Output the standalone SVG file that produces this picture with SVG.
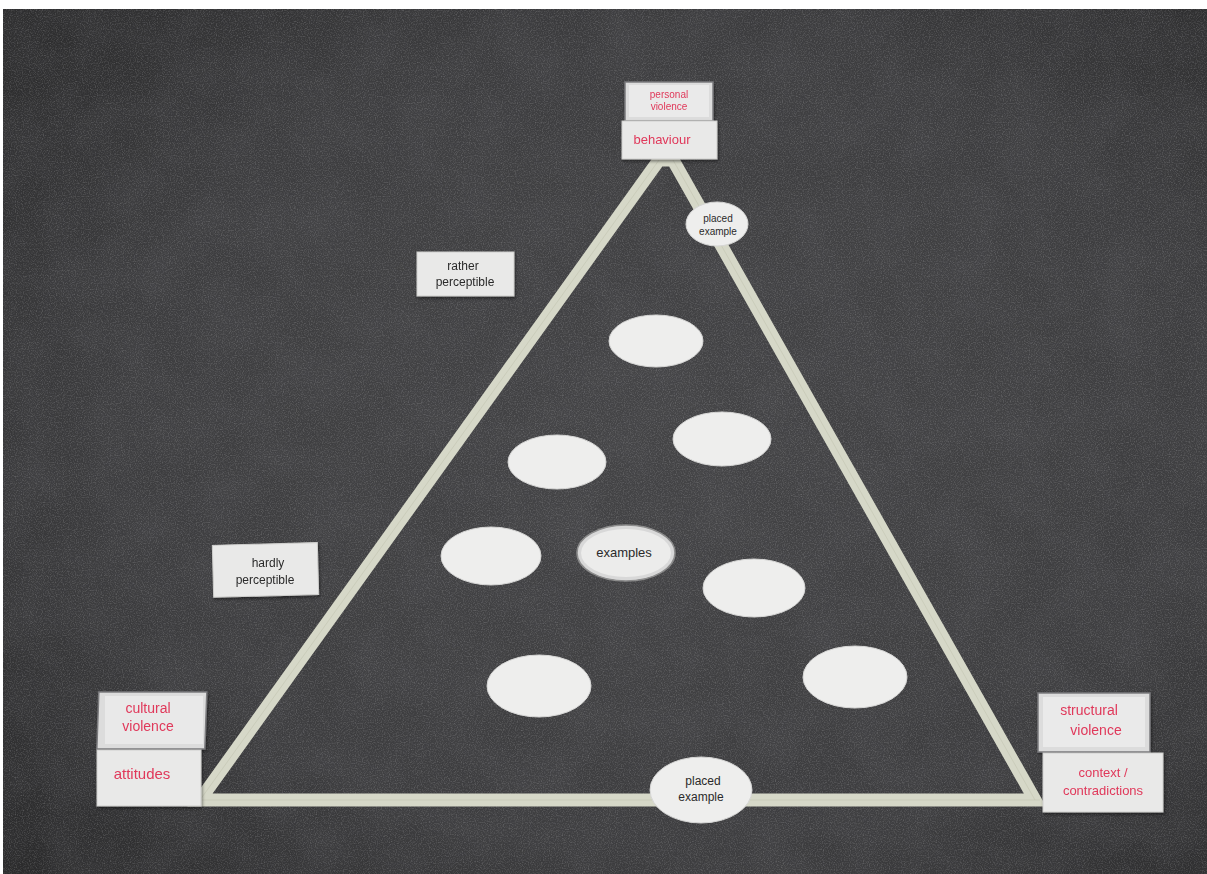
<svg xmlns="http://www.w3.org/2000/svg" width="1207" height="874" viewBox="0 0 1207 874">
<defs>
<filter id="grain" x="0" y="0" width="100%" height="100%">
<feTurbulence type="fractalNoise" baseFrequency="0.85" numOctaves="2" seed="3" result="n"/>
<feColorMatrix in="n" type="matrix" values="0 0 0 0 0.55  0 0 0 0 0.55  0 0 0 0 0.56  0 0 0 1.6 -0.7" result="c"/>
<feComposite in="c" in2="SourceGraphic" operator="in"/>
</filter>
<filter id="blotch" x="0" y="0" width="100%" height="100%">
<feTurbulence type="fractalNoise" baseFrequency="0.02" numOctaves="3" seed="8" result="n"/>
<feColorMatrix in="n" type="matrix" values="0 0 0 0 0.1  0 0 0 0 0.1  0 0 0 0 0.11  0 0 0 0.7 -0.2"/>
</filter>
<radialGradient id="vig" cx="0.55" cy="0.5" r="0.72">
<stop offset="0" stop-color="#444446"/>
<stop offset="0.65" stop-color="#3d3d3f"/>
<stop offset="1" stop-color="#2b2b2c"/>
</radialGradient>
<filter id="sh" x="-10%" y="-10%" width="130%" height="140%">
<feDropShadow dx="1" dy="2" stdDeviation="1.5" flood-color="#000" flood-opacity="0.45"/>
</filter>
</defs>
<style>
.card{fill:#e9e9e8;stroke:#cfcfcd;stroke-width:1}
.frame{fill:#dcdcdc;stroke:#7b7b7e;stroke-width:1.5}
.ell{fill:#eeeeed;stroke:#d6d6d5;stroke-width:1}
.red{font-family:"Liberation Sans",Arial,sans-serif;fill:#e0385a;text-anchor:middle}
.blk{font-family:"Liberation Sans",Arial,sans-serif;fill:#2a2a2a;text-anchor:middle}
.tape{stroke:#d6d8c8;stroke-width:13;fill:none;stroke-linejoin:miter}
</style>
<rect x="0" y="0" width="1207" height="874" fill="#ffffff"/>
<rect x="3" y="9" width="1204" height="865" fill="url(#vig)"/>
<rect x="3" y="9" width="1204" height="865" fill="#000" filter="url(#blotch)" opacity="0.5"/>
<rect x="3" y="9" width="1204" height="865" fill="#fff" filter="url(#grain)" opacity="0.35"/>

<g id="connectors">
<path class="tape" d="M200,800 L659,160 L673,160 L1035,800 Z"/>
<path d="M200,800 L659,160 M673,160 L1035,800 M196,800 L1040,800" stroke="#bfc1ae" stroke-width="1" fill="none" opacity="0.5"/>
</g>

<g id="apex-personal-violence" filter="url(#sh)">
<rect class="frame" x="625" y="82" width="88" height="39"/>
<rect x="629" y="85" width="80" height="32" fill="#eaeaea"/>
<text class="red" x="669" y="98" font-size="10">personal</text>
<text class="red" x="669" y="110" font-size="10">violence</text>
</g>
<g id="apex-behaviour" filter="url(#sh)">
<rect class="card" x="622" y="121" width="95" height="38"/>
<text class="red" x="662" y="144" font-size="13">behaviour</text>
</g>

<g id="left-cultural-violence" filter="url(#sh)">
<rect class="frame" x="98" y="692" width="108" height="57" transform="skewX(-2) translate(25,0)"/>
<rect x="105" y="696" width="98" height="48" fill="#e9e9e9"/>
<text class="red" x="148" y="713" font-size="14">cultural</text>
<text class="red" x="148" y="731" font-size="14">violence</text>
</g>
<g id="left-attitudes" filter="url(#sh)">
<rect class="card" x="97" y="750" width="104" height="56"/>
<text class="red" x="142" y="779" font-size="15">attitudes</text>
</g>

<g id="right-structural-violence" filter="url(#sh)">
<rect class="frame" x="1038" y="693" width="112" height="59"/>
<rect x="1043" y="697" width="102" height="50" fill="#eaeaea"/>
<text class="red" x="1089" y="715" font-size="14">structural</text>
<text class="red" x="1096" y="735" font-size="14">violence</text>
</g>
<g id="right-context" filter="url(#sh)">
<rect class="card" x="1043" y="753" width="120" height="59"/>
<text class="red" x="1103" y="777" font-size="13">context /</text>
<text class="red" x="1103" y="795" font-size="13">contradictions</text>
</g>

<g id="label-rather-perceptible" filter="url(#sh)">
<rect class="card" x="417" y="252" width="97" height="44"/>
<text class="blk" x="463" y="270" font-size="12">rather</text>
<text class="blk" x="465" y="286" font-size="12">perceptible</text>
</g>
<g id="label-hardly-perceptible" filter="url(#sh)">
<rect class="card" x="213" y="544" width="105" height="52" transform="rotate(-1.5 265 570)"/>
<text class="blk" x="268" y="567" font-size="12">hardly</text>
<text class="blk" x="265" y="584" font-size="12">perceptible</text>
</g>

<g id="example-1"><ellipse class="ell" cx="656" cy="341" rx="47" ry="26"/></g>
<g id="example-2"><ellipse class="ell" cx="722" cy="439" rx="49" ry="27"/></g>
<g id="example-3"><ellipse class="ell" cx="557" cy="462" rx="49" ry="27"/></g>
<g id="example-4"><ellipse class="ell" cx="491" cy="556" rx="50" ry="29"/></g>
<g id="examples-label">
<ellipse cx="626" cy="553" rx="49" ry="28" fill="#d8d8d8" stroke="#8c8c8c" stroke-width="1.5"/>
<ellipse cx="626" cy="553" rx="45" ry="24" fill="#ececeb"/>
<text class="blk" x="624" y="557" font-size="13">examples</text>
</g>
<g id="example-5"><ellipse class="ell" cx="754" cy="588" rx="51" ry="29"/></g>
<g id="example-6"><ellipse class="ell" cx="539" cy="686" rx="52" ry="31"/></g>
<g id="example-7"><ellipse class="ell" cx="855" cy="677" rx="52" ry="31"/></g>

<g id="placed-example-top">
<ellipse class="ell" cx="717" cy="224" rx="31" ry="22"/>
<text class="blk" x="718" y="222" font-size="10">placed</text>
<text class="blk" x="718" y="235" font-size="10">example</text>
</g>
<g id="placed-example-bottom">
<ellipse class="ell" cx="701" cy="790" rx="51" ry="33"/>
<text class="blk" x="703" y="785" font-size="12">placed</text>
<text class="blk" x="701" y="801" font-size="12">example</text>
</g>
</svg>
